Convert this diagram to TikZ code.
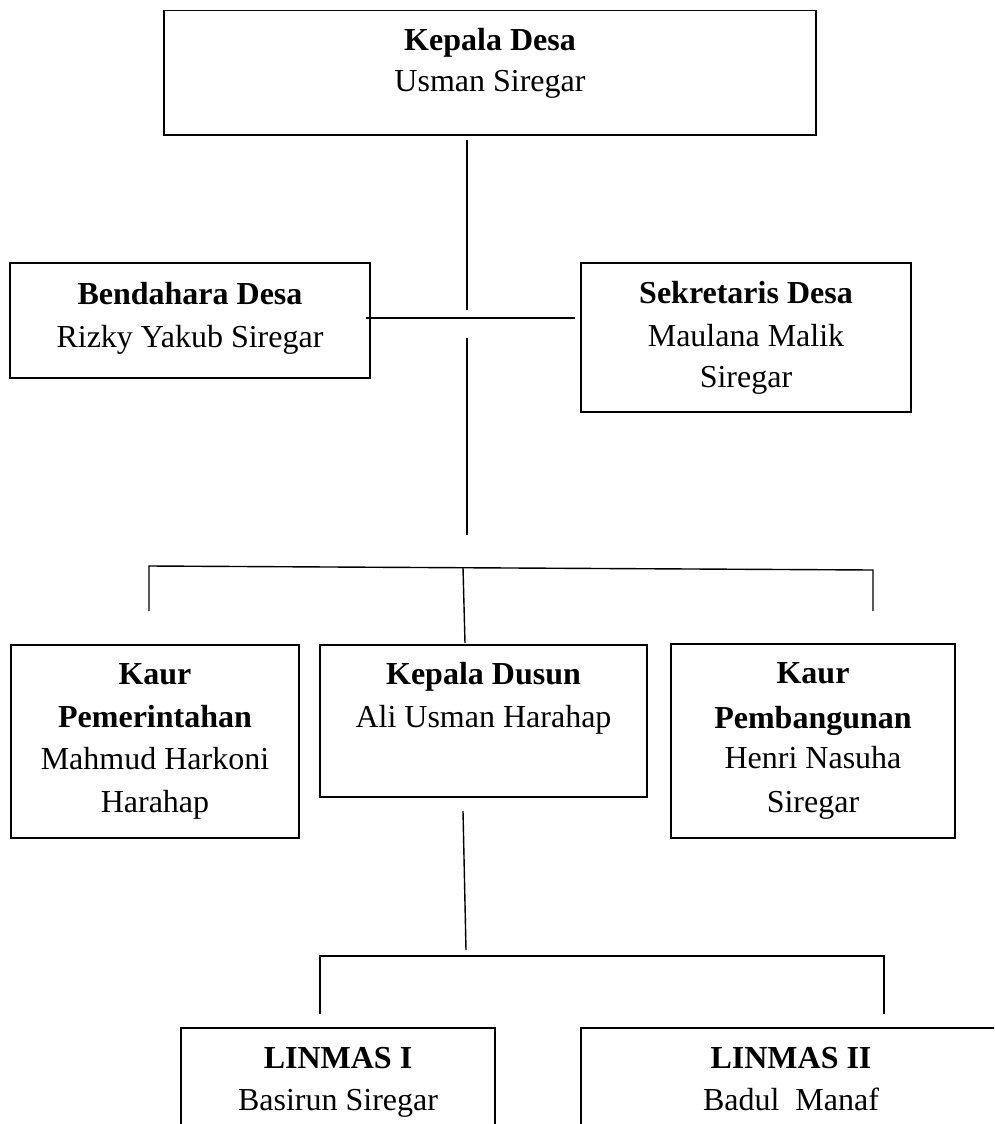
\documentclass[tikz,border=0pt]{standalone}
\usepackage{fontspec}
\setmainfont{Liberation Serif}
\begin{document}
\begin{tikzpicture}[x=1pt,y=-1pt,
  box/.style={draw=black, line width=1.2pt, rectangle, inner sep=0pt},
  lbl/.style={anchor=base, inner sep=0pt, font=\fontsize{32}{40}\selectfont},
  hd/.style={anchor=base, inner sep=0pt, font=\fontsize{32}{40}\selectfont\bfseries},
  conn/.style={draw=black, line width=1.4pt}]
\useasboundingbox (0,0) rectangle (994,1124);
\fill[white] (0,0) rectangle (994,1124);
\clip (0,0) rectangle (994,1124);

% boxes
\node[box, minimum width=652pt, minimum height=124.5pt] (kades) at (490,72.75) {};
\node[box, minimum width=360pt, minimum height=115pt] (bend) at (190,320.5) {};
\node[box, minimum width=330pt, minimum height=149pt] (sekdes) at (746,337.5) {};
\node[box, minimum width=288pt, minimum height=193pt] (kpem) at (155,741.5) {};
\node[box, minimum width=327pt, minimum height=152pt] (kdus) at (483.5,721) {};
\node[box, minimum width=284pt, minimum height=194pt] (kpemb) at (813,741) {};
\node[box, minimum width=314pt, minimum height=140pt] (lin1) at (338,1098) {};
\node[box, minimum width=420pt, minimum height=140pt] (lin2) at (791,1098) {};

% texts
\node[hd] (t1a) at (490,51) {Kepala Desa};
\node[lbl] (t1b) at (490,92) {Usman Siregar};
\node[hd] (t2a) at (190,304) {Bendahara Desa};
\node[lbl] (t2b) at (190,347) {Rizky Yakub Siregar};
\node[hd] (t3a) at (746,303) {Sekretaris Desa};
\node[lbl] (t3b) at (746,346) {Maulana Malik};
\node[lbl] (t3c) at (746,387) {Siregar};
\node[hd] (t4a) at (155,684) {Kaur};
\node[hd] (t4b) at (155,727) {Pemerintahan};
\node[lbl] (t4c) at (155,769) {Mahmud Harkoni};
\node[lbl] (t4d) at (155,812) {Harahap};
\node[hd] (t5a) at (483.5,684) {Kepala Dusun};
\node[lbl] (t5b) at (483.5,727) {Ali Usman Harahap};
\node[hd] (t6a) at (813,683) {Kaur};
\node[hd] (t6b) at (813,728) {Pembangunan};
\node[lbl] (t6c) at (813,768) {Henri Nasuha};
\node[lbl] (t6d) at (813,812) {Siregar};
\node[hd] (t7a) at (338,1068) {LINMAS I};
\node[lbl] (t7b) at (338,1110) {Basirun Siregar};
\node[hd] (t8a) at (791,1068) {LINMAS II};
\node[lbl] (t8b) at (791,1110) {Badul\ \ Manaf};

% connector points
\coordinate (a1) at (467,140);
\coordinate (a2) at (467,310);
\coordinate (h1) at (366,318);
\coordinate (h2) at (575,318);
\coordinate (a3) at (467,338);
\coordinate (a4) at (467,535);
\coordinate (bL) at (149,566);
\coordinate (bM) at (463,568);
\coordinate (bR) at (873,570);
\coordinate (dL) at (149,611);
\coordinate (dM) at (465,643);
\coordinate (dR) at (873,611);
\coordinate (e1) at (463,811);
\coordinate (e2) at (466,950);
\coordinate (fL) at (320,956);
\coordinate (fR) at (884,956);
\coordinate (gL) at (320,1014);
\coordinate (gR) at (884,1014);

% connectors
\draw[conn] (a1) -- (a2);
\draw[conn] (h1) -- (h2);
\draw[conn] (a3) -- (a4);
\draw[conn] (dL) -- (bL) -- (bR) -- (dR);
\draw[conn] (bM) -- (dM);
\draw[conn] (e1) -- (e2);
\draw[conn] (gL) -- (fL) -- (fR) -- (gR);
\end{tikzpicture}
\end{document}
